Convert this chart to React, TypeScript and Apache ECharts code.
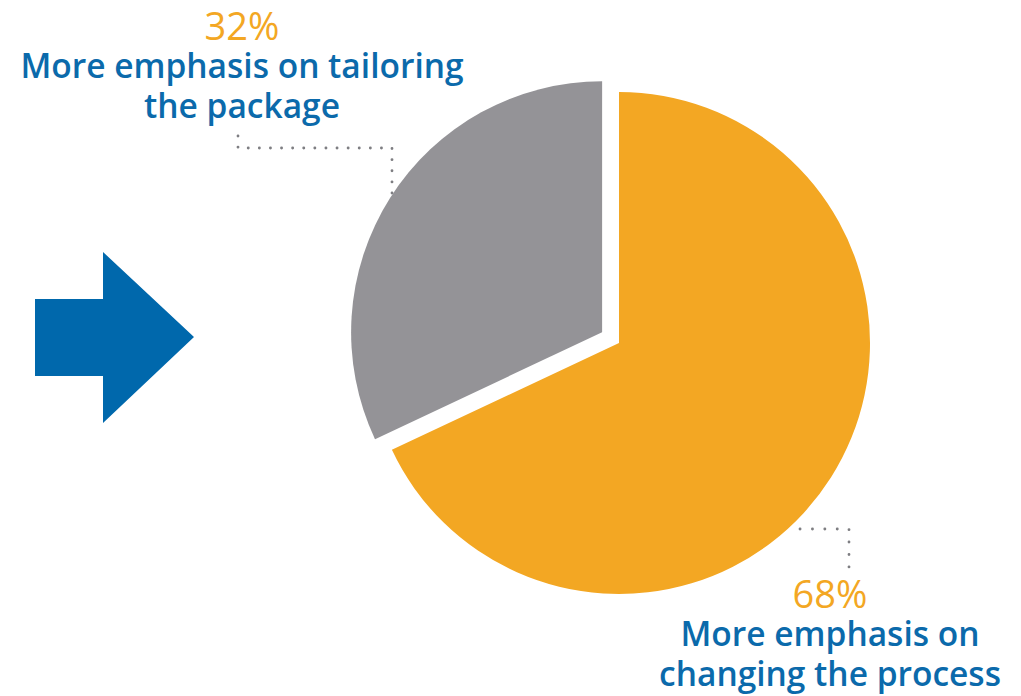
import React, { useEffect, useRef } from "react";
import * as echarts from "echarts";

const categories = ["More emphasis on\nchanging the process", "More emphasis on tailoring\nthe package"];
const values = [68, 32];
const sliceColors = ["#F3A723", "#949397"];
const selectedFlags = [false, true];

const ORANGE = "#F3A723";
const BLUE = "#0B6AAB";
const FONT = "'Open Sans', 'Noto Sans', sans-serif";

export default function App() {
  const ref = useRef<HTMLDivElement>(null);
  useEffect(() => {
    if (!ref.current) return;
    const chart = echarts.init(ref.current, undefined, { renderer: "svg" });
    const labelPos = [
      { x: 830, y: 572 },
      { x: 242, y: 4 },
    ];
    const labelText = (i: number) =>
      `{pct|${values[i]}%}\n` +
      categories[i]
        .split("\n")
        .map((l) => `{txt|${l}}`)
        .join("\n");
    const rich = {
      pct: { fill: ORANGE, fontSize: 38, fontWeight: 500, fontFamily: FONT, lineHeight: 41 },
      txt: { fill: BLUE, fontSize: 33.5, fontWeight: 600, fontFamily: FONT, lineHeight: 40 },
    };
    chart.setOption({
      animation: false,
      backgroundColor: "#ffffff",
      series: [
        {
          type: "pie",
          center: [619, 343],
          radius: 251,
          startAngle: 90,
          clockwise: true,
          selectedMode: "single",
          selectedOffset: 20,
          silent: true,
          emphasis: { disabled: true },
          data: values.map((v, i) => ({
            value: v,
            name: categories[i],
            selected: selectedFlags[i],
            itemStyle: { color: sliceColors[i], borderWidth: 0 },
            select: { itemStyle: { color: sliceColors[i], borderWidth: 0 } },
          })),
          labelLine: { show: false },
          label: { show: false },
        },
      ],
      graphic: [
        {
          type: "polygon",
          shape: {
            points: [
              [35, 299],
              [103, 299],
              [103, 252],
              [194, 337],
              [103, 423],
              [103, 376],
              [35, 376],
            ],
          },
          style: { fill: "#0068AC" },
        },
        {
          type: "polyline",
          shape: { points: [[238, 136], [238, 148], [392, 148], [392, 204]] },
          style: { stroke: "#7E7E82", lineWidth: 2.8, lineDash: [0.1, 11], lineCap: "round", fill: null },
        },
        {
          type: "polyline",
          shape: { points: [[800, 529], [849, 529], [849, 567]] },
          style: { stroke: "#7E7E82", lineWidth: 2.8, lineDash: [0.1, 12.3], lineCap: "round", fill: null },
        },
        ...values.map((_, i) => ({
          type: "text",
          x: labelPos[i].x,
          y: labelPos[i].y,
          style: {
            text: labelText(i),
            align: "center",
            verticalAlign: "top",
            fontFamily: FONT,
            rich,
          },
        })),
      ],
    });
    return () => chart.dispose();
  }, []);
  return (
    <div
      ref={ref}
      style={{ position: "fixed", left: 0, top: 0, width: 1021, height: 696, background: "#fff" }}
    />
  );
}
